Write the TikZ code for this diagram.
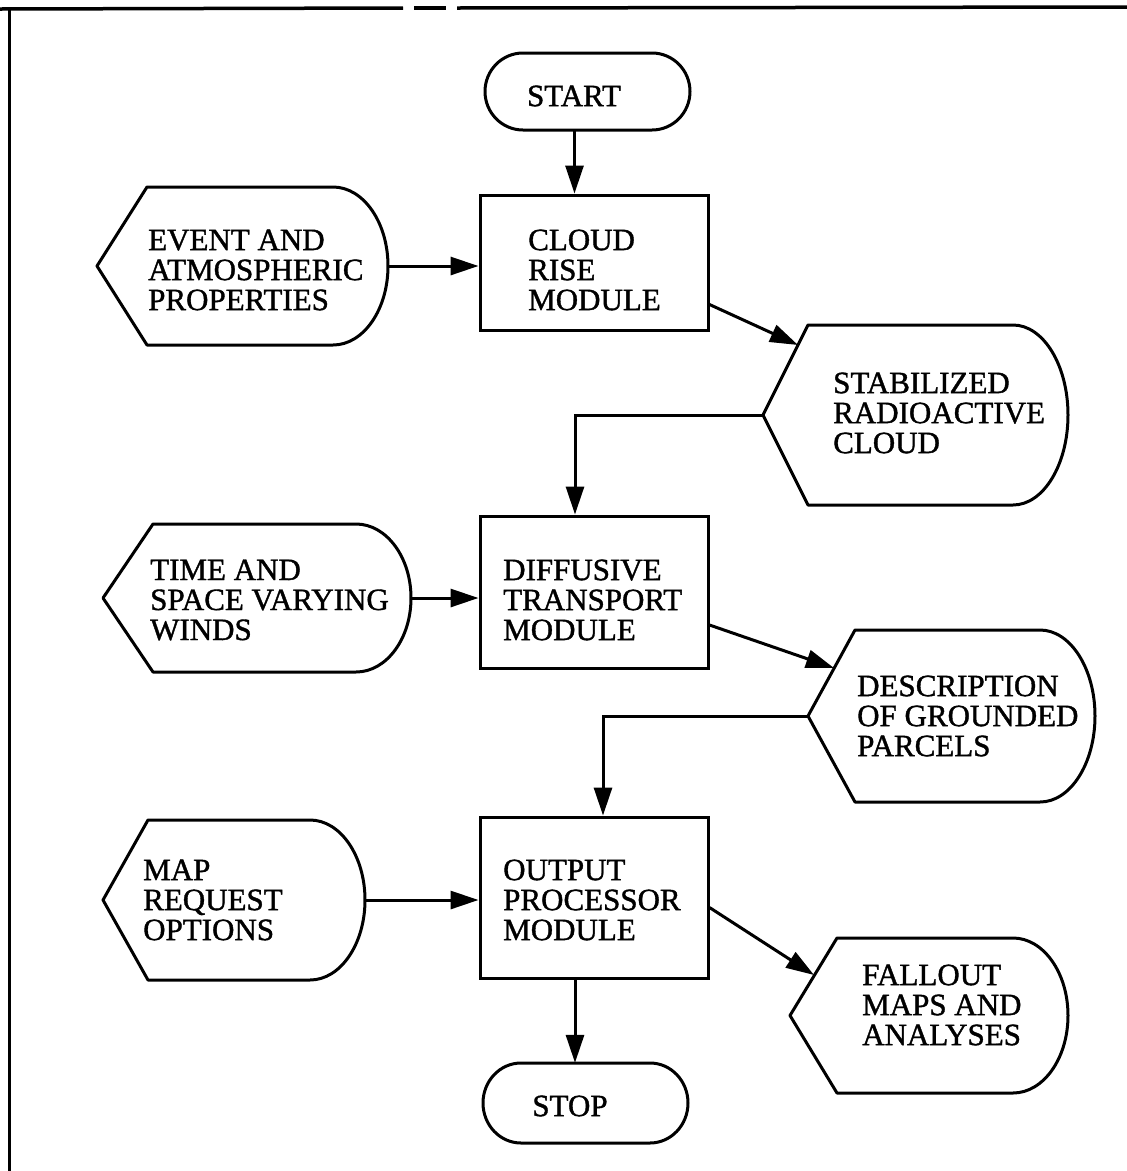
\documentclass[tikz,border=0pt]{standalone}
\usepackage{fontspec}
\setmainfont{Liberation Serif}[FakeBold=1.2]
\usetikzlibrary{arrows.meta,calc}
\newcommand\dispshape[7]{%
 \pgfmathsetmacro\dYm{(#3+#5)/2}%
 \pgfmathsetmacro\dHh{(#5-#3)/2}%
 \pgfmathsetmacro\dXa{#2+#6}%
 \pgfmathsetmacro\dXb{#4-#7}%
 \pgfmathsetmacro\dXk{#4-#7+0.552*#7}%
 \pgfmathsetmacro\dYu{\dYm-0.552*\dHh}%
 \pgfmathsetmacro\dYd{\dYm+0.552*\dHh}%
 \draw[shp] (#2,\dYm) -- (\dXa,#3) -- (\dXb,#3) .. controls (\dXk,#3) and (#4,\dYu) .. (#4,\dYm) .. controls (#4,\dYd) and (\dXk,#5) .. (\dXb,#5) -- (\dXa,#5) -- cycle;
 \node[area, minimum width={#4-#2}, minimum height={#5-#3}] (#1) at ({(#2+#4)/2},\dYm) {};
}
\newcommand\stadshape[6]{%
 \pgfmathsetmacro\dYm{(#3+#5)/2}%
 \pgfmathsetmacro\dHh{(#5-#3)/2}%
 \pgfmathsetmacro\dXa{#2+#6}%
 \pgfmathsetmacro\dXc{#2+#6-0.552*#6}%
 \pgfmathsetmacro\dXb{#4-#6}%
 \pgfmathsetmacro\dXk{#4-#6+0.552*#6}%
 \pgfmathsetmacro\dYu{\dYm-0.552*\dHh}%
 \pgfmathsetmacro\dYd{\dYm+0.552*\dHh}%
 \draw[shp] (\dXa,#3) -- (\dXb,#3) .. controls (\dXk,#3) and (#4,\dYu) .. (#4,\dYm) .. controls (#4,\dYd) and (\dXk,#5) .. (\dXb,#5) -- (\dXa,#5) .. controls (\dXc,#5) and (#2,\dYd) .. (#2,\dYm) .. controls (#2,\dYu) and (\dXc,#3) .. cycle;
 \node[area, minimum width={#4-#2}, minimum height={#5-#3}] (#1) at ({(#2+#4)/2},\dYm) {};
}
\begin{document}
\begin{tikzpicture}[x=1pt,y=-1pt,
  shp/.style={line width=3pt, line join=round},
  arr/.style={line width=3pt, -{Triangle[length=28pt,width=18pt]}},
  txt/.style={font=\fontsize{31}{30}\selectfont, align=left, inner sep=0pt, anchor=west},
  box/.style={draw, line width=3pt, minimum width=228pt, inner sep=0pt},
  area/.style={inner sep=0pt},
  frame/.style={line width=3.5pt}]
\useasboundingbox (0,0) rectangle (1127,1171);
% frame
\draw[frame] (0,9) -- (403,8);
\draw[frame] (414,8) -- (446,8);
\draw[frame] (457,8) -- (1127,7);
\draw[line width=3pt] (9,8) -- (9,1171);

% start
\stadshape{start}{485}{53}{690}{130}{38}
\node[txt, anchor=center] (startT) at (574,96) {START};

% cloud rise
\node[box, minimum height=135pt] (cloud) at (594,262.5) {};
\node[txt] (cloudT) at (528,270) {CLOUD\\RISE\\MODULE};
\draw[arr] ([xshift=-13pt]start.south) -- ([xshift=-13pt]start.south |- cloud.north);

\dispshape{event}{97}{187}{388}{345}{50}{55}
\node[txt] (eventT) at (148,270) {EVENT AND\\ATMOSPHERIC\\PROPERTIES};
\draw[arr] (event.east) -- (event.east -| cloud.west);

\dispshape{stab}{763}{325}{1068}{505}{45}{55}
\node[txt] (stabT) at (833,413) {STABILIZED\\RADIOACTIVE\\CLOUD};
\coordinate (stabin) at (798,345);
\draw[arr] ([yshift=-42pt]cloud.east) -- (stabin);

% diffusive
\node[box, minimum height=152pt] (diff) at (594,592) {};
\node[txt] (diffT) at (503,600) {DIFFUSIVE\\TRANSPORT\\MODULE};
\draw[arr] (stab.west) -| ([xshift=-19pt]diff.north);

\dispshape{time}{103}{524}{411}{672}{50}{55}
\node[txt] (timeT) at (150,600) {TIME AND\\SPACE VARYING\\WINDS};
\draw[arr] (time.east) -- (time.east -| diff.west);

\dispshape{desc}{808}{630}{1095}{802}{47}{55}
\node[txt] (descT) at (857,716) {DESCRIPTION\\OF GROUNDED\\PARCELS};
\coordinate (descin) at (834,668);
\draw[arr] ([yshift=-33pt]diff.east) -- (descin);

% output
\node[box, minimum height=161pt] (out) at (594,897.5) {};
\node[txt] (outT) at (503,900) {OUTPUT\\PROCESSOR\\MODULE};
\draw[arr] (desc.west) -| ([xshift=9pt]out.north);

\dispshape{map}{103}{820}{365}{980}{45}{55}
\node[txt] (mapT) at (143,900) {MAP\\REQUEST\\OPTIONS};
\draw[arr] (map.east) -- (map.east -| out.west);

\dispshape{fall}{790}{938}{1068}{1093}{47}{55}
\node[txt] (fallT) at (862,1005) {FALLOUT\\MAPS AND\\ANALYSES};
\coordinate (fallin) at (814,975);
\draw[arr] ([yshift=-10pt]out.east) -- (fallin);

% stop
\stadshape{stop}{483}{1063}{688}{1143}{38}
\node[txt, anchor=center] (stopT) at (570,1106) {STOP};
\draw[arr] ([xshift=-19pt]out.south) -- ([xshift=-19pt]out.south |- stop.north);
\end{tikzpicture}
\end{document}
